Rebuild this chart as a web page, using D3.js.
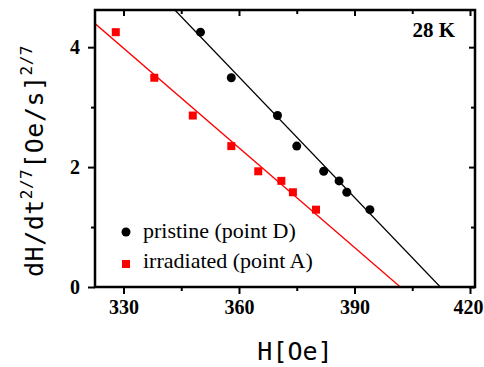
<!DOCTYPE html>
<html>
<head>
<meta charset="utf-8">
<script src="https://cdn.jsdelivr.net/npm/d3@7"></script>
<style>
  body { margin: 0; background: #fff; }
</style>
</head>
<body>
<div class="canvas"></div>
<script>
// pristine (point D)
const pristineH = [350, 358, 370, 375, 382, 386, 388, 394];
const pristineV = [4.25, 3.49, 2.86, 2.35, 1.93, 1.77, 1.58, 1.29];
// irradiated (point A)
const irradH = [328, 338, 348, 358, 365, 371, 374, 380];
const irradV = [4.25, 3.49, 2.86, 2.35, 1.93, 1.77, 1.58, 1.29];
// linear fits: y = slope * (x0 - x)
const fitSlope = [0.0670, 0.0554];
const fitX0 = [412.3, 401.9];
const seriesNames = ["pristine (point D)", "irradiated (point A)"];
const seriesColors = ["#000", "#f00"];
const xTicks = [330, 360, 390, 420];
const xMinor = [345, 375, 405];
const yTicks = [0, 2, 4];
const yMinor = [1, 3];

const W = 484, H = 367;
const m = { left: 95, right: 9, top: 10, bottom: 80 };

const svg = d3.select('.canvas')
  .append('svg')
  .attr('width', W)
  .attr('height', H);

const x = d3.scaleLinear().domain([322.6, 421.3]).range([m.left, W - m.right]);
const y = d3.scaleLinear().domain([0, 4.62]).range([H - m.bottom, m.top]);

svg.append("defs").append("clipPath").attr("id", "clip")
  .append("rect")
    .attr("x", m.left).attr("y", m.top)
    .attr("width", W - m.left - m.right)
    .attr("height", H - m.top - m.bottom);

// fit lines
const plot = svg.append("g").attr("clip-path", "url(#clip)");
fitSlope.forEach((s, i) => {
  const xs = x.domain();
  plot.append("line")
    .attr("x1", x(xs[0])).attr("y1", y(s * (fitX0[i] - xs[0])))
    .attr("x2", x(xs[1])).attr("y2", y(s * (fitX0[i] - xs[1])))
    .style("stroke", seriesColors[i])
    .style("stroke-width", 1.3);
});

// axes
const tickFont = g => g.selectAll("text")
  .style("font-family", "'Liberation Serif', 'Times New Roman', serif")
  .style("font-weight", "bold")
  .style("font-size", "20px")
  .style("fill", "#000");

const bottom = svg.append("g")
  .attr("transform", `translate(0,${H - m.bottom})`)
  .call(d3.axisBottom(x).tickValues(xTicks).tickFormat(d3.format("d")).tickSize(7).tickPadding(6));
bottom.call(tickFont);
bottom.selectAll(".tick text").filter(d => d === 420).attr("dx", -2);
svg.append("g")
  .attr("transform", `translate(0,${H - m.bottom})`)
  .call(d3.axisBottom(x).tickValues(xMinor).tickFormat("").tickSize(4));

const left = svg.append("g")
  .attr("transform", `translate(${m.left},0)`)
  .call(d3.axisLeft(y).tickValues(yTicks).tickFormat(d3.format("d")).tickSize(7).tickPadding(8));
left.call(tickFont);
svg.append("g")
  .attr("transform", `translate(${m.left},0)`)
  .call(d3.axisLeft(y).tickValues(yMinor).tickFormat("").tickSize(4));

// inner ticks on top and right
svg.append("g")
  .attr("transform", `translate(0,${m.top})`)
  .call(d3.axisBottom(x).tickValues(xTicks).tickFormat("").tickSize(6));
svg.append("g")
  .attr("transform", `translate(0,${m.top})`)
  .call(d3.axisBottom(x).tickValues(xMinor).tickFormat("").tickSize(4));
svg.append("g")
  .attr("transform", `translate(${W - m.right},0)`)
  .call(d3.axisLeft(y).tickValues(yTicks).tickFormat("").tickSize(6));
svg.append("g")
  .attr("transform", `translate(${W - m.right},0)`)
  .call(d3.axisLeft(y).tickValues(yMinor).tickFormat("").tickSize(4));

svg.selectAll(".domain").remove();
svg.selectAll(".tick line").style("stroke", "#000").style("stroke-width", 2);

svg.append("rect")
  .attr("x", m.left).attr("y", m.top)
  .attr("width", W - m.left - m.right)
  .attr("height", H - m.top - m.bottom)
  .style("fill", "none")
  .style("stroke", "#000")
  .style("stroke-width", 2.5);

// points
svg.append("g").selectAll("circle")
  .data(pristineH)
  .join("circle")
    .attr("cx", d => x(d))
    .attr("cy", (d, i) => y(pristineV[i]))
    .attr("r", 4.5)
    .style("fill", seriesColors[0]);

svg.append("g").selectAll("rect")
  .data(irradH)
  .join("rect")
    .attr("x", d => x(d) - 4)
    .attr("y", (d, i) => y(irradV[i]) - 4)
    .attr("width", 8).attr("height", 8)
    .style("fill", seriesColors[1]);

// legend
const legend = svg.append("g");
legend.append("circle").attr("cx", 126).attr("cy", 232).attr("r", 4.5).style("fill", seriesColors[0]);
legend.append("rect").attr("x", 122).attr("y", 260).attr("width", 8).attr("height", 8).style("fill", seriesColors[1]);
seriesNames.forEach((n, i) => {
  legend.append("text")
    .attr("x", 143).attr("y", 238 + i * 30)
    .style("font-family", "'Liberation Serif', 'Times New Roman', serif")
    .style("font-size", "22px")
    .text(n);
});

svg.append("text")
  .attr("x", 455).attr("y", 37)
  .attr("text-anchor", "end")
  .style("font-family", "'Liberation Serif', 'Times New Roman', serif")
  .style("font-weight", "bold")
  .style("font-size", "21px")
  .text("28 K");

// axis titles
svg.append("text")
  .attr("x", 295).attr("y", 360)
  .attr("text-anchor", "middle")
  .style("font-family", "'DejaVu Sans Mono', monospace")
  .style("font-size", "25px")
  .text("H[Oe]");

const yt = svg.append("text")
  .attr("transform", "translate(43,161) rotate(-90)")
  .attr("text-anchor", "middle")
  .style("font-family", "'DejaVu Sans Mono', monospace")
  .style("font-size", "25px")
  .style("letter-spacing", "0.5px");
yt.append("tspan").text("dH/dt");
yt.append("tspan").attr("dy", -11).style("font-size", "16px").text("2/7");
yt.append("tspan").attr("dy", 11).text("[Oe/s]");
yt.append("tspan").attr("dy", -11).style("font-size", "16px").text("2/7");
</script>
</body>
</html>
